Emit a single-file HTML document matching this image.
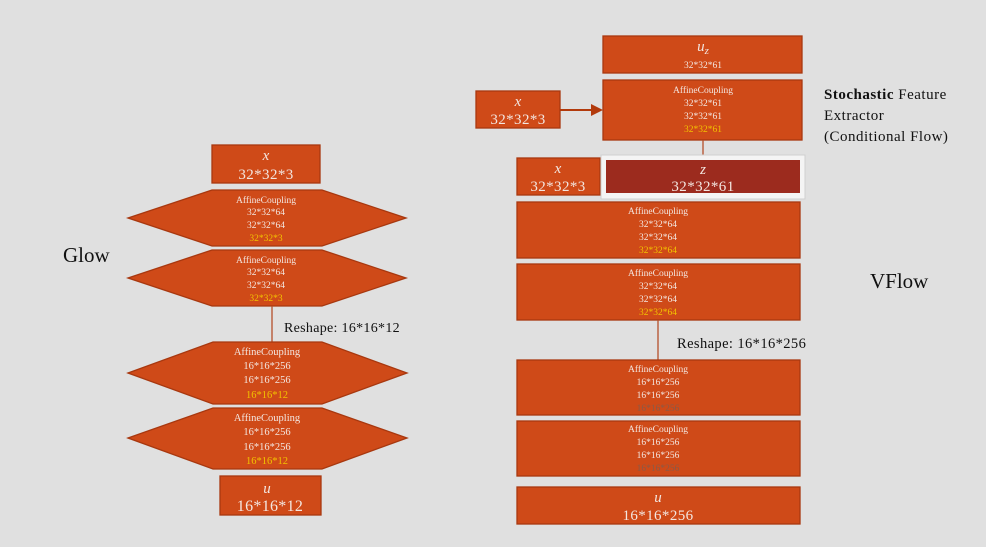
<!DOCTYPE html>
<html><head><meta charset="utf-8"><style>
html,body{margin:0;padding:0;background:#e0e0e0;}
svg{display:block;font-family:"Liberation Serif",serif;}
.s{fill:#cf4a18;stroke:#a8380f;stroke-width:1.3;}
.w{fill:#f3e6e0;text-anchor:middle;}
.y{fill:#f2c200;text-anchor:middle;}
.g{fill:#8a5a48;text-anchor:middle;}
.t{fill:#111;}
</style></head><body>
<svg width="986" height="547" viewBox="0 0 986 547" xmlns="http://www.w3.org/2000/svg">
<!-- Glow -->
<text x="63" y="262" class="t" font-size="21">Glow</text>
<rect x="212" y="145" width="108" height="38" class="s"/>
<text x="266" y="160" class="w" font-size="15" font-style="italic">x</text>
<text x="266" y="179" class="w" font-size="15" letter-spacing="0.4">32*32*3</text>

<polygon points="128,218 212,190 322,190 406,218 322,246 212,246" class="s"/>
<text x="266" y="203" class="w" font-size="9.5">AffineCoupling</text>
<text x="266" y="215" class="w" font-size="9.5">32*32*64</text>
<text x="266" y="228" class="w" font-size="9.5">32*32*64</text>
<text x="266" y="241" class="y" font-size="9.5">32*32*3</text>

<polygon points="128,278 212,250 322,250 406,278 322,306 212,306" class="s"/>
<text x="266" y="263" class="w" font-size="9.5">AffineCoupling</text>
<text x="266" y="275" class="w" font-size="9.5">32*32*64</text>
<text x="266" y="288" class="w" font-size="9.5">32*32*64</text>
<text x="266" y="301" class="y" font-size="9.5">32*32*3</text>

<line x1="272" y1="306" x2="272" y2="342" stroke="#b5502a" stroke-width="1.3"/>
<text x="284" y="332" class="t" font-size="14" letter-spacing="0.3">Reshape: 16*16*12</text>

<polygon points="128,373 213,342 322,342 407,373 322,404 213,404" class="s"/>
<text x="267" y="355" class="w" font-size="10.5">AffineCoupling</text>
<text x="267" y="369" class="w" font-size="10.5">16*16*256</text>
<text x="267" y="383" class="w" font-size="10.5">16*16*256</text>
<text x="267" y="398" class="y" font-size="10.5">16*16*12</text>

<polygon points="128,438 213,408 322,408 407,438 322,469 213,469" class="s"/>
<text x="267" y="421" class="w" font-size="10.5">AffineCoupling</text>
<text x="267" y="435" class="w" font-size="10.5">16*16*256</text>
<text x="267" y="450" class="w" font-size="10.5">16*16*256</text>
<text x="267" y="464" class="y" font-size="10.5">16*16*12</text>

<rect x="220" y="476" width="101" height="39" class="s"/>
<text x="267" y="493" class="w" font-size="15" font-style="italic">u</text>
<text x="270" y="511" class="w" font-size="16" letter-spacing="0.3">16*16*12</text>

<!-- VFlow -->
<text x="870" y="288" class="t" font-size="21">VFlow</text>
<rect x="603" y="36" width="199" height="37" class="s"/>
<text x="703" y="51" class="w" font-size="15" font-style="italic">u<tspan font-size="11" dy="3">z</tspan></text>
<text x="703" y="68" class="w" font-size="9.5">32*32*61</text>

<rect x="603" y="80" width="199" height="60" class="s"/>
<text x="703" y="93" class="w" font-size="9.5">AffineCoupling</text>
<text x="703" y="106" class="w" font-size="9.5">32*32*61</text>
<text x="703" y="119" class="w" font-size="9.5">32*32*61</text>
<text x="703" y="132" class="y" font-size="9.5">32*32*61</text>

<rect x="476" y="91" width="84" height="37" class="s"/>
<text x="518" y="106" class="w" font-size="15" font-style="italic">x</text>
<text x="518" y="124" class="w" font-size="15" letter-spacing="0.4">32*32*3</text>
<line x1="560" y1="110" x2="592" y2="110" stroke="#b23a0c" stroke-width="2"/>
<polygon points="591,104 603,110 591,116" fill="#b23a0c"/>

<text x="824" y="99" class="t" font-size="15" letter-spacing="0.5"><tspan font-weight="bold">Stochastic</tspan> Feature</text>
<text x="824" y="120" class="t" font-size="15" letter-spacing="0.5">Extractor</text>
<text x="824" y="141" class="t" font-size="15" letter-spacing="0.5">(Conditional Flow)</text>

<line x1="703" y1="140" x2="703" y2="160" stroke="#b5502a" stroke-width="1.3"/>

<rect x="517" y="158" width="83" height="37" class="s"/>
<text x="558" y="173" class="w" font-size="15" font-style="italic">x</text>
<text x="558" y="191" class="w" font-size="15" letter-spacing="0.4">32*32*3</text>

<rect x="601" y="155" width="204" height="44" fill="#f4f4f4" stroke="#cfcfcf" stroke-width="1"/>
<rect x="606" y="160" width="194" height="33" fill="#9c2b1e"/>
<text x="703" y="174" class="w" font-size="15" font-style="italic">z</text>
<text x="703" y="191" class="w" font-size="15" letter-spacing="0.4">32*32*61</text>

<rect x="517" y="202" width="283" height="56" class="s"/>
<text x="658" y="214" class="w" font-size="9.5">AffineCoupling</text>
<text x="658" y="227" class="w" font-size="9.5">32*32*64</text>
<text x="658" y="240" class="w" font-size="9.5">32*32*64</text>
<text x="658" y="253" class="y" font-size="9.5">32*32*64</text>

<rect x="517" y="264" width="283" height="56" class="s"/>
<text x="658" y="276" class="w" font-size="9.5">AffineCoupling</text>
<text x="658" y="289" class="w" font-size="9.5">32*32*64</text>
<text x="658" y="302" class="w" font-size="9.5">32*32*64</text>
<text x="658" y="315" class="y" font-size="9.5">32*32*64</text>

<line x1="658" y1="320" x2="658" y2="360" stroke="#b5502a" stroke-width="1.3"/>
<text x="677" y="348" class="t" font-size="14.5" letter-spacing="0.4">Reshape: 16*16*256</text>

<rect x="517" y="360" width="283" height="55" class="s"/>
<text x="658" y="372" class="w" font-size="9.5">AffineCoupling</text>
<text x="658" y="385" class="w" font-size="9.5">16*16*256</text>
<text x="658" y="398" class="w" font-size="9.5">16*16*256</text>
<text x="658" y="411" class="g" font-size="9.5">16*16*256</text>

<rect x="517" y="421" width="283" height="55" class="s"/>
<text x="658" y="432" class="w" font-size="9.5">AffineCoupling</text>
<text x="658" y="445" class="w" font-size="9.5">16*16*256</text>
<text x="658" y="458" class="w" font-size="9.5">16*16*256</text>
<text x="658" y="471" class="g" font-size="9.5">16*16*256</text>

<rect x="517" y="487" width="283" height="37" class="s"/>
<text x="658" y="502" class="w" font-size="15" font-style="italic">u</text>
<text x="658" y="520" class="w" font-size="15" letter-spacing="0.4">16*16*256</text>
</svg>
</body></html>
